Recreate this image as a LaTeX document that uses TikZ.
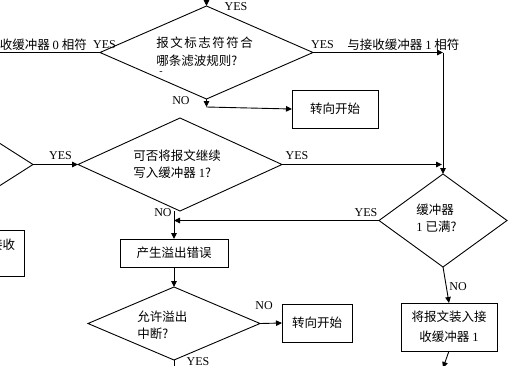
\documentclass[tikz,border=0pt]{standalone}
\usepackage{fontspec}
\setmainfont{Liberation Serif}
\newfontfamily\cjk{Noto Sans CJK SC}
\newfontfamily\cjkwide[LetterSpace=12]{Noto Sans CJK SC}
\usetikzlibrary{shapes.geometric,arrows.meta}
\begin{document}
\begin{tikzpicture}[x=1pt,y=-1pt,line width=0.9pt,
  dia/.style={draw,shape=diamond,inner sep=0pt,outer sep=0pt},
  procbox/.style={draw,rectangle,inner sep=0pt,outer sep=0pt,align=center,font=\cjk\fontsize{12.5}{20}\selectfont},
  ctxt/.style={inner sep=0pt,anchor=west,align=left,font=\cjk\fontsize{12.5}{17.5}\selectfont},
  lbl/.style={inner sep=0pt,font=\fontsize{12}{14}\selectfont},
  arr/.style={-{Triangle[length=6pt,width=5.5pt]}}]
\useasboundingbox (0,0) rectangle (509,365);
\clip (0,0) rectangle (509,365);
\fill[white] (0,0) rectangle (509,365);
% diamonds
\node[dia,minimum width=213pt,minimum height=93pt] (d1) at (206.5,52.5) {};
\node[dia,minimum width=146pt,minimum height=93pt] (d0) at (-40,164.5) {};
\node[dia,minimum width=204pt,minimum height=93pt] (d2) at (180,164.5) {};
\node[dia,minimum width=128pt,minimum height=93pt] (d3) at (443,220.5) {};
\node[dia,minimum width=172pt,minimum height=73pt] (d4) at (174,323.5) {};
% diamond texts
\node[ctxt] (t1) at (156,51.5) {{\cjkwide 报文标志符符合}\\哪条滤波规则?};
\node[inner sep=0pt,font=\fontsize{10}{11}\selectfont] (dash) at (161,73) {-};
\node[ctxt] (t2) at (133,164) {可否将报文继续\\写入缓冲器 {\rmfamily 1}?};
\node[ctxt] (t3) at (416,218) {缓冲器\\{\rmfamily 1} 已满?};
\node[ctxt] (t4) at (137,325) {允许溢出\\中断?};
% boxes
\node[procbox,minimum width=86pt,minimum height=38pt] (b1) at (335,109) {转向开始};
\node[procbox,minimum width=108pt,minimum height=28pt] (b2) at (174,253) {产生溢出错误};
\node[procbox,minimum width=70pt,minimum height=38pt] (b3) at (317,323) {转向开始};
\node[procbox,minimum width=96pt,minimum height=48pt] (b4) at (449,327) {将报文装入接\\收缓冲器 {\rmfamily 1}};
\node[procbox,minimum width=100pt,minimum height=46pt] (b0) at (-26,253) {};
\node[ctxt,anchor=east] (t0) at (15.5,245) {接收};
% coordinates
\coordinate (top) at (206.5,-5);
\coordinate (lft) at (-5,52.5);
\coordinate (c1) at (443,52.5);
\coordinate (c2) at (206.5,107);
\coordinate (c3) at (442,164.5);
\coordinate (c4) at (174,220.5);
\coordinate (bot1) at (174,372);
\coordinate (bot2) at (443,368);
% connectors
\draw[arr] (top) -- (d1.north);
\draw (d1.west) -- (lft);
\draw[arr] (d1.east) -- (c1);
\draw[arr] (c1) -- (d3.north);
\draw[arr] (d1.south) -- (c2);
\draw[arr] (c2) -- (b1.west);
\draw[arr] (d0.east) -- (d2.west);
\draw[arr] (d2.east) -- (c3);
\draw[arr] (b2.north |- d2.south) -- (b2.north);
\draw[arr] (d3.west) -- (c4);
\draw[arr] (b2.south) -- (d4.north);
\draw[arr] (d4.east) -- (b3.west);
\draw (d4.south) -- (bot1);
\draw[arr] (d3.south) -- (b4.north);
\draw[arr] (b4.south) -- (bot2);
% labels
\node[ctxt] (l1) at (-0.5,45) {收缓冲器 {\rmfamily 0} 相符};
\node[ctxt] (l2) at (347,45) {与接收缓冲器 {\rmfamily 1} 相符};
\node[lbl] (y0) at (236,7) {YES};
\node[lbl] (y1) at (104.5,45) {YES};
\node[lbl] (y2) at (322.5,45) {YES};
\node[lbl] (n1) at (181,101) {NO};
\node[lbl] (y3) at (60.5,156) {YES};
\node[lbl] (y4) at (297,156) {YES};
\node[lbl] (n2) at (163,213) {NO};
\node[lbl] (y5) at (366,213) {YES};
\node[lbl] (n3) at (264,306) {NO};
\node[lbl] (y6) at (198,362) {YES};
\node[lbl] (n4) at (458,287) {NO};
\end{tikzpicture}
\end{document}
